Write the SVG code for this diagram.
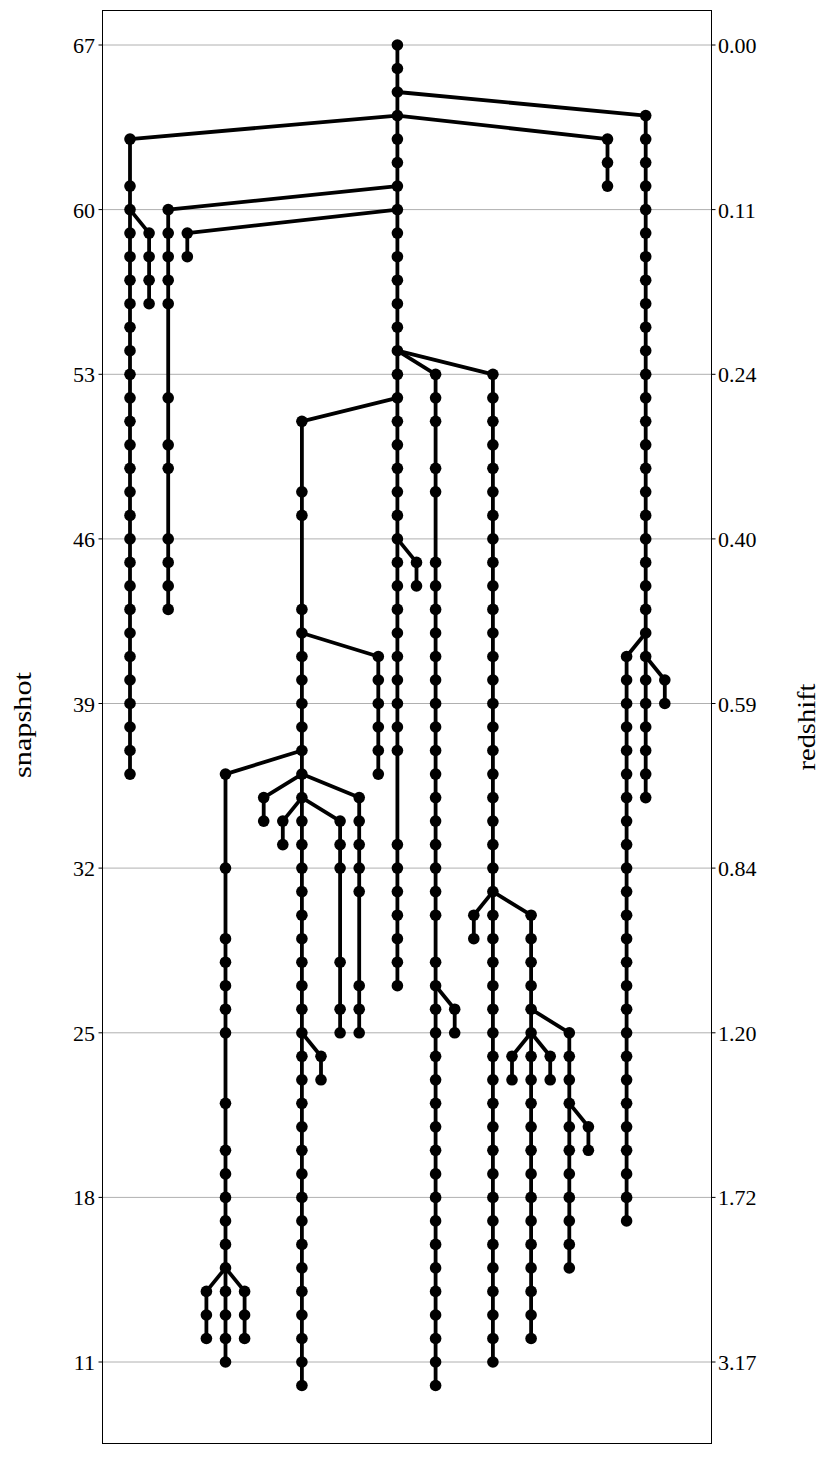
<svg xmlns="http://www.w3.org/2000/svg" xmlns:xlink="http://www.w3.org/1999/xlink" width="831" height="1458" viewBox="0 0 831 1458">
<style>
.grid line{stroke:#b0b0b0;stroke-width:1}
.tick line{stroke:#000;stroke-width:1}
.lab{font-family:"Liberation Serif","DejaVu Serif",serif;font-size:22px;fill:#000}
.ttl{font-family:"Liberation Serif","DejaVu Serif",serif;font-size:26px;fill:#000}
#connectors path{stroke:#000;stroke-width:3.8;fill:none}
</style>
<defs><circle id="d" cx="0" cy="0" r="5.8" fill="#000"/></defs>
<rect x="0" y="0" width="831" height="1458" fill="#fff"/>
<g class="grid">
<line x1="102.5" y1="45" x2="711.5" y2="45"/><line x1="102.5" y1="209.6" x2="711.5" y2="209.6"/><line x1="102.5" y1="374.3" x2="711.5" y2="374.3"/><line x1="102.5" y1="538.9" x2="711.5" y2="538.9"/><line x1="102.5" y1="703.5" x2="711.5" y2="703.5"/><line x1="102.5" y1="868.1" x2="711.5" y2="868.1"/><line x1="102.5" y1="1032.8" x2="711.5" y2="1032.8"/><line x1="102.5" y1="1197.4" x2="711.5" y2="1197.4"/><line x1="102.5" y1="1362" x2="711.5" y2="1362"/>
</g>
<g class="tick">
<line x1="98.5" y1="45" x2="102.5" y2="45"/><line x1="98.5" y1="209.6" x2="102.5" y2="209.6"/><line x1="98.5" y1="374.3" x2="102.5" y2="374.3"/><line x1="98.5" y1="538.9" x2="102.5" y2="538.9"/><line x1="98.5" y1="703.5" x2="102.5" y2="703.5"/><line x1="98.5" y1="868.1" x2="102.5" y2="868.1"/><line x1="98.5" y1="1032.8" x2="102.5" y2="1032.8"/><line x1="98.5" y1="1197.4" x2="102.5" y2="1197.4"/><line x1="98.5" y1="1362" x2="102.5" y2="1362"/>
<line x1="711.5" y1="45" x2="715.5" y2="45"/><line x1="711.5" y1="209.6" x2="715.5" y2="209.6"/><line x1="711.5" y1="374.3" x2="715.5" y2="374.3"/><line x1="711.5" y1="538.9" x2="715.5" y2="538.9"/><line x1="711.5" y1="703.5" x2="715.5" y2="703.5"/><line x1="711.5" y1="868.1" x2="715.5" y2="868.1"/><line x1="711.5" y1="1032.8" x2="715.5" y2="1032.8"/><line x1="711.5" y1="1197.4" x2="715.5" y2="1197.4"/><line x1="711.5" y1="1362" x2="715.5" y2="1362"/>
</g>
<g class="lab" text-anchor="end">
<text x="95" y="53">67</text><text x="95" y="217.6">60</text><text x="95" y="382.3">53</text><text x="95" y="546.9">46</text><text x="95" y="711.5">39</text><text x="95" y="876.1">32</text><text x="95" y="1040.8">25</text><text x="95" y="1205.4">18</text><text x="95" y="1370">11</text>
</g>
<g class="lab" text-anchor="start">
<text x="718" y="53">0.00</text><text x="718" y="217.6">0.11</text><text x="718" y="382.3">0.24</text><text x="718" y="546.9">0.40</text><text x="718" y="711.5">0.59</text><text x="718" y="876.1">0.84</text><text x="718" y="1040.8">1.20</text><text x="718" y="1205.4">1.72</text><text x="718" y="1370">3.17</text>
</g>
<text class="ttl" x="31" y="725" text-anchor="middle" transform="rotate(-90 31 725)" textLength="106" lengthAdjust="spacingAndGlyphs">snapshot</text>
<text class="ttl" x="815" y="727" text-anchor="middle" transform="rotate(-90 815 727)" textLength="87" lengthAdjust="spacingAndGlyphs">redshift</text>
<g id="connectors">
<path d="M397.4 45V985.7"/><path d="M645.7 115.6V797.6"/><path d="M130 139.1V774.1"/><path d="M607.5 139.1V186.1"/><path d="M168.2 209.6V609.4"/><path d="M187.3 233.1V256.7"/><path d="M149.1 233.1V303.7"/><path d="M435.6 374.3V1385.5"/><path d="M492.9 374.3V1362"/><path d="M301.9 421.3V1385.5"/><path d="M416.5 562.4V585.9"/><path d="M626.6 656.5V1220.9"/><path d="M664.8 680V703.5"/><path d="M378.3 656.5V774.1"/><path d="M225.5 774.1V1362"/><path d="M263.7 797.6V821.1"/><path d="M359.2 797.6V1032.8"/><path d="M282.8 821.1V844.6"/><path d="M340.1 821.1V1032.8"/><path d="M321 1056.3V1079.8"/><path d="M206.4 1291.4V1338.5"/><path d="M244.6 1291.4V1338.5"/><path d="M454.7 1009.2V1032.8"/><path d="M473.8 915.2V938.7"/><path d="M531.1 915.2V1338.5"/><path d="M569.3 1032.8V1267.9"/><path d="M512 1056.3V1079.8"/><path d="M550.2 1056.3V1079.8"/><path d="M588.4 1126.8V1150.3"/>
<path d="M397.4 92L645.7 115.6"/><path d="M397.4 115.6L130 139.1"/><path d="M397.4 115.6L607.5 139.1"/><path d="M397.4 186.1L168.2 209.6"/><path d="M397.4 209.6L187.3 233.1"/><path d="M130 209.6L149.1 233.1"/><path d="M397.4 350.7L435.6 374.3"/><path d="M397.4 350.7L492.9 374.3"/><path d="M397.4 397.8L301.9 421.3"/><path d="M397.4 538.9L416.5 562.4"/><path d="M645.7 633L626.6 656.5"/><path d="M645.7 656.5L664.8 680"/><path d="M301.9 633L378.3 656.5"/><path d="M301.9 750.5L225.5 774.1"/><path d="M301.9 774.1L263.7 797.6"/><path d="M301.9 774.1L359.2 797.6"/><path d="M301.9 797.6L282.8 821.1"/><path d="M301.9 797.6L340.1 821.1"/><path d="M301.9 1032.8L321 1056.3"/><path d="M225.5 1267.9L206.4 1291.4"/><path d="M225.5 1267.9L244.6 1291.4"/><path d="M435.6 985.7L454.7 1009.2"/><path d="M492.9 891.6L473.8 915.2"/><path d="M492.9 891.6L531.1 915.2"/><path d="M531.1 1009.2L569.3 1032.8"/><path d="M531.1 1032.8L512 1056.3"/><path d="M531.1 1032.8L550.2 1056.3"/><path d="M569.3 1103.3L588.4 1126.8"/>
</g>
<g id="branch-N" transform="translate(397.4 0)"><use href="#d" y="45"/><use href="#d" y="68.5"/><use href="#d" y="92"/><use href="#d" y="115.6"/><use href="#d" y="139.1"/><use href="#d" y="162.6"/><use href="#d" y="186.1"/><use href="#d" y="209.6"/><use href="#d" y="233.1"/><use href="#d" y="256.7"/><use href="#d" y="280.2"/><use href="#d" y="303.7"/><use href="#d" y="327.2"/><use href="#d" y="350.7"/><use href="#d" y="374.3"/><use href="#d" y="397.8"/><use href="#d" y="421.3"/><use href="#d" y="444.8"/><use href="#d" y="468.3"/><use href="#d" y="491.8"/><use href="#d" y="515.4"/><use href="#d" y="538.9"/><use href="#d" y="562.4"/><use href="#d" y="585.9"/><use href="#d" y="609.4"/><use href="#d" y="633"/><use href="#d" y="656.5"/><use href="#d" y="680"/><use href="#d" y="703.5"/><use href="#d" y="727"/><use href="#d" y="750.5"/><use href="#d" y="844.6"/><use href="#d" y="868.1"/><use href="#d" y="891.6"/><use href="#d" y="915.2"/><use href="#d" y="938.7"/><use href="#d" y="962.2"/><use href="#d" y="985.7"/></g>
<g id="branch-AA" transform="translate(645.7 0)"><use href="#d" y="115.6"/><use href="#d" y="139.1"/><use href="#d" y="162.6"/><use href="#d" y="186.1"/><use href="#d" y="209.6"/><use href="#d" y="233.1"/><use href="#d" y="256.7"/><use href="#d" y="280.2"/><use href="#d" y="303.7"/><use href="#d" y="327.2"/><use href="#d" y="350.7"/><use href="#d" y="374.3"/><use href="#d" y="397.8"/><use href="#d" y="421.3"/><use href="#d" y="444.8"/><use href="#d" y="468.3"/><use href="#d" y="491.8"/><use href="#d" y="515.4"/><use href="#d" y="538.9"/><use href="#d" y="562.4"/><use href="#d" y="585.9"/><use href="#d" y="609.4"/><use href="#d" y="633"/><use href="#d" y="656.5"/><use href="#d" y="680"/><use href="#d" y="703.5"/><use href="#d" y="727"/><use href="#d" y="750.5"/><use href="#d" y="774.1"/><use href="#d" y="797.6"/></g>
<g id="branch-A" transform="translate(130 0)"><use href="#d" y="139.1"/><use href="#d" y="186.1"/><use href="#d" y="209.6"/><use href="#d" y="233.1"/><use href="#d" y="256.7"/><use href="#d" y="280.2"/><use href="#d" y="303.7"/><use href="#d" y="327.2"/><use href="#d" y="350.7"/><use href="#d" y="374.3"/><use href="#d" y="397.8"/><use href="#d" y="421.3"/><use href="#d" y="444.8"/><use href="#d" y="468.3"/><use href="#d" y="491.8"/><use href="#d" y="515.4"/><use href="#d" y="538.9"/><use href="#d" y="562.4"/><use href="#d" y="585.9"/><use href="#d" y="609.4"/><use href="#d" y="633"/><use href="#d" y="656.5"/><use href="#d" y="680"/><use href="#d" y="703.5"/><use href="#d" y="727"/><use href="#d" y="750.5"/><use href="#d" y="774.1"/></g>
<g id="branch-Y" transform="translate(607.5 0)"><use href="#d" y="139.1"/><use href="#d" y="162.6"/><use href="#d" y="186.1"/></g>
<g id="branch-C" transform="translate(168.2 0)"><use href="#d" y="209.6"/><use href="#d" y="233.1"/><use href="#d" y="256.7"/><use href="#d" y="280.2"/><use href="#d" y="303.7"/><use href="#d" y="397.8"/><use href="#d" y="444.8"/><use href="#d" y="468.3"/><use href="#d" y="538.9"/><use href="#d" y="562.4"/><use href="#d" y="585.9"/><use href="#d" y="609.4"/></g>
<g id="branch-D" transform="translate(187.3 0)"><use href="#d" y="233.1"/><use href="#d" y="256.7"/></g>
<g id="branch-B" transform="translate(149.1 0)"><use href="#d" y="233.1"/><use href="#d" y="256.7"/><use href="#d" y="280.2"/><use href="#d" y="303.7"/></g>
<g id="branch-P" transform="translate(435.6 0)"><use href="#d" y="374.3"/><use href="#d" y="397.8"/><use href="#d" y="421.3"/><use href="#d" y="468.3"/><use href="#d" y="491.8"/><use href="#d" y="562.4"/><use href="#d" y="585.9"/><use href="#d" y="609.4"/><use href="#d" y="633"/><use href="#d" y="656.5"/><use href="#d" y="680"/><use href="#d" y="703.5"/><use href="#d" y="727"/><use href="#d" y="750.5"/><use href="#d" y="774.1"/><use href="#d" y="797.6"/><use href="#d" y="821.1"/><use href="#d" y="844.6"/><use href="#d" y="868.1"/><use href="#d" y="891.6"/><use href="#d" y="915.2"/><use href="#d" y="962.2"/><use href="#d" y="985.7"/><use href="#d" y="1009.2"/><use href="#d" y="1032.8"/><use href="#d" y="1056.3"/><use href="#d" y="1079.8"/><use href="#d" y="1103.3"/><use href="#d" y="1126.8"/><use href="#d" y="1150.3"/><use href="#d" y="1173.9"/><use href="#d" y="1197.4"/><use href="#d" y="1220.9"/><use href="#d" y="1244.4"/><use href="#d" y="1267.9"/><use href="#d" y="1291.4"/><use href="#d" y="1315"/><use href="#d" y="1338.5"/><use href="#d" y="1362"/><use href="#d" y="1385.5"/></g>
<g id="branch-S" transform="translate(492.9 0)"><use href="#d" y="374.3"/><use href="#d" y="397.8"/><use href="#d" y="421.3"/><use href="#d" y="444.8"/><use href="#d" y="468.3"/><use href="#d" y="491.8"/><use href="#d" y="515.4"/><use href="#d" y="538.9"/><use href="#d" y="562.4"/><use href="#d" y="585.9"/><use href="#d" y="609.4"/><use href="#d" y="633"/><use href="#d" y="656.5"/><use href="#d" y="680"/><use href="#d" y="703.5"/><use href="#d" y="727"/><use href="#d" y="750.5"/><use href="#d" y="774.1"/><use href="#d" y="797.6"/><use href="#d" y="821.1"/><use href="#d" y="844.6"/><use href="#d" y="868.1"/><use href="#d" y="891.6"/><use href="#d" y="915.2"/><use href="#d" y="938.7"/><use href="#d" y="962.2"/><use href="#d" y="985.7"/><use href="#d" y="1009.2"/><use href="#d" y="1032.8"/><use href="#d" y="1056.3"/><use href="#d" y="1079.8"/><use href="#d" y="1103.3"/><use href="#d" y="1126.8"/><use href="#d" y="1150.3"/><use href="#d" y="1173.9"/><use href="#d" y="1197.4"/><use href="#d" y="1220.9"/><use href="#d" y="1244.4"/><use href="#d" y="1267.9"/><use href="#d" y="1291.4"/><use href="#d" y="1315"/><use href="#d" y="1338.5"/><use href="#d" y="1362"/></g>
<g id="branch-I" transform="translate(301.9 0)"><use href="#d" y="421.3"/><use href="#d" y="491.8"/><use href="#d" y="515.4"/><use href="#d" y="609.4"/><use href="#d" y="633"/><use href="#d" y="656.5"/><use href="#d" y="680"/><use href="#d" y="703.5"/><use href="#d" y="727"/><use href="#d" y="750.5"/><use href="#d" y="774.1"/><use href="#d" y="797.6"/><use href="#d" y="821.1"/><use href="#d" y="844.6"/><use href="#d" y="868.1"/><use href="#d" y="891.6"/><use href="#d" y="915.2"/><use href="#d" y="938.7"/><use href="#d" y="962.2"/><use href="#d" y="985.7"/><use href="#d" y="1009.2"/><use href="#d" y="1032.8"/><use href="#d" y="1056.3"/><use href="#d" y="1079.8"/><use href="#d" y="1103.3"/><use href="#d" y="1126.8"/><use href="#d" y="1150.3"/><use href="#d" y="1173.9"/><use href="#d" y="1197.4"/><use href="#d" y="1220.9"/><use href="#d" y="1244.4"/><use href="#d" y="1267.9"/><use href="#d" y="1291.4"/><use href="#d" y="1315"/><use href="#d" y="1338.5"/><use href="#d" y="1362"/><use href="#d" y="1385.5"/></g>
<g id="branch-O" transform="translate(416.5 0)"><use href="#d" y="562.4"/><use href="#d" y="585.9"/></g>
<g id="branch-Z" transform="translate(626.6 0)"><use href="#d" y="656.5"/><use href="#d" y="680"/><use href="#d" y="703.5"/><use href="#d" y="727"/><use href="#d" y="750.5"/><use href="#d" y="774.1"/><use href="#d" y="797.6"/><use href="#d" y="821.1"/><use href="#d" y="844.6"/><use href="#d" y="868.1"/><use href="#d" y="891.6"/><use href="#d" y="915.2"/><use href="#d" y="938.7"/><use href="#d" y="962.2"/><use href="#d" y="985.7"/><use href="#d" y="1009.2"/><use href="#d" y="1032.8"/><use href="#d" y="1056.3"/><use href="#d" y="1079.8"/><use href="#d" y="1103.3"/><use href="#d" y="1126.8"/><use href="#d" y="1150.3"/><use href="#d" y="1173.9"/><use href="#d" y="1197.4"/><use href="#d" y="1220.9"/></g>
<g id="branch-AB" transform="translate(664.8 0)"><use href="#d" y="680"/><use href="#d" y="703.5"/></g>
<g id="branch-M" transform="translate(378.3 0)"><use href="#d" y="656.5"/><use href="#d" y="680"/><use href="#d" y="703.5"/><use href="#d" y="727"/><use href="#d" y="750.5"/><use href="#d" y="774.1"/></g>
<g id="branch-F" transform="translate(225.5 0)"><use href="#d" y="774.1"/><use href="#d" y="868.1"/><use href="#d" y="938.7"/><use href="#d" y="962.2"/><use href="#d" y="985.7"/><use href="#d" y="1009.2"/><use href="#d" y="1032.8"/><use href="#d" y="1103.3"/><use href="#d" y="1150.3"/><use href="#d" y="1173.9"/><use href="#d" y="1197.4"/><use href="#d" y="1220.9"/><use href="#d" y="1244.4"/><use href="#d" y="1267.9"/><use href="#d" y="1291.4"/><use href="#d" y="1315"/><use href="#d" y="1338.5"/><use href="#d" y="1362"/></g>
<g id="branch-G1" transform="translate(263.7 0)"><use href="#d" y="797.6"/><use href="#d" y="821.1"/></g>
<g id="branch-L" transform="translate(359.2 0)"><use href="#d" y="797.6"/><use href="#d" y="821.1"/><use href="#d" y="844.6"/><use href="#d" y="868.1"/><use href="#d" y="891.6"/><use href="#d" y="985.7"/><use href="#d" y="1009.2"/><use href="#d" y="1032.8"/></g>
<g id="branch-H" transform="translate(282.8 0)"><use href="#d" y="821.1"/><use href="#d" y="844.6"/></g>
<g id="branch-K" transform="translate(340.1 0)"><use href="#d" y="821.1"/><use href="#d" y="844.6"/><use href="#d" y="868.1"/><use href="#d" y="962.2"/><use href="#d" y="1009.2"/><use href="#d" y="1032.8"/></g>
<g id="branch-J" transform="translate(321 0)"><use href="#d" y="1056.3"/><use href="#d" y="1079.8"/></g>
<g id="branch-E" transform="translate(206.4 0)"><use href="#d" y="1291.4"/><use href="#d" y="1315"/><use href="#d" y="1338.5"/></g>
<g id="branch-G" transform="translate(244.6 0)"><use href="#d" y="1291.4"/><use href="#d" y="1315"/><use href="#d" y="1338.5"/></g>
<g id="branch-Q" transform="translate(454.7 0)"><use href="#d" y="1009.2"/><use href="#d" y="1032.8"/></g>
<g id="branch-R" transform="translate(473.8 0)"><use href="#d" y="915.2"/><use href="#d" y="938.7"/></g>
<g id="branch-U" transform="translate(531.1 0)"><use href="#d" y="915.2"/><use href="#d" y="938.7"/><use href="#d" y="962.2"/><use href="#d" y="985.7"/><use href="#d" y="1009.2"/><use href="#d" y="1032.8"/><use href="#d" y="1056.3"/><use href="#d" y="1079.8"/><use href="#d" y="1103.3"/><use href="#d" y="1126.8"/><use href="#d" y="1150.3"/><use href="#d" y="1173.9"/><use href="#d" y="1197.4"/><use href="#d" y="1220.9"/><use href="#d" y="1244.4"/><use href="#d" y="1267.9"/><use href="#d" y="1291.4"/><use href="#d" y="1315"/><use href="#d" y="1338.5"/></g>
<g id="branch-W" transform="translate(569.3 0)"><use href="#d" y="1032.8"/><use href="#d" y="1056.3"/><use href="#d" y="1079.8"/><use href="#d" y="1103.3"/><use href="#d" y="1126.8"/><use href="#d" y="1150.3"/><use href="#d" y="1173.9"/><use href="#d" y="1197.4"/><use href="#d" y="1220.9"/><use href="#d" y="1244.4"/><use href="#d" y="1267.9"/></g>
<g id="branch-T" transform="translate(512 0)"><use href="#d" y="1056.3"/><use href="#d" y="1079.8"/></g>
<g id="branch-V" transform="translate(550.2 0)"><use href="#d" y="1056.3"/><use href="#d" y="1079.8"/></g>
<g id="branch-X" transform="translate(588.4 0)"><use href="#d" y="1126.8"/><use href="#d" y="1150.3"/></g>
<rect x="102.5" y="10.5" width="609" height="1433" fill="none" stroke="#000" stroke-width="1"/>
</svg>
